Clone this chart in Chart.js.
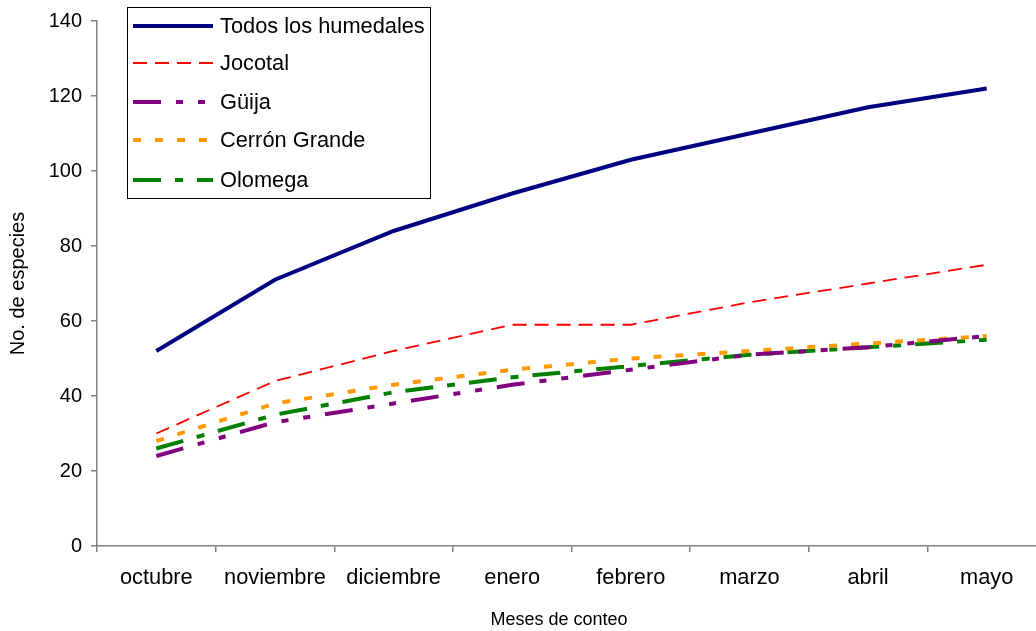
<!DOCTYPE html>
<html>
<head>
<meta charset="utf-8">
<script src="https://cdn.jsdelivr.net/npm/chart.js@4/dist/chart.umd.min.js"></script>
<style>
  html, body { margin: 0; padding: 0; background: #ffffff; overflow: hidden; width: 1036px; height: 631px; }
  #wrap { width: 1056px; height: 631px; }
</style>
</head>
<body>
<div id="wrap"><canvas id="c" width="1056" height="631"></canvas></div>
<script>
const categories = ['octubre', 'noviembre', 'diciembre', 'enero', 'febrero', 'marzo', 'abril', 'mayo'];
const seriesNames = ['Todos los humedales', 'Jocotal', 'Güija', 'Cerrón Grande', 'Olomega'];
const todos   = [52, 71, 84, 94, 103, 110, 117, 122];
const jocotal = [30, 44, 52, 59, 59, 65, 70, 75];
const guija   = [24, 33, 38, 43, 47, 51, 53, 56];
const cerron  = [28, 38, 43, 47, 50, 52, 54, 56];
const olomega = [26, 35, 41, 45, 48, 51, 53, 55];
const yTicks  = [0, 20, 40, 60, 80, 100, 120, 140];
const xTitle = 'Meses de conteo';
const yTitle = 'No. de especies';

const FONT = '"Liberation Sans", Arial, sans-serif';

const styles = [
  { color: '#000080', width: 4,   dash: [] },
  { color: '#FF0000', width: 1.8, dash: [14, 8] },
  { color: '#800080', width: 4,   dash: [28, 15, 7, 15, 7, 15] },
  { color: '#FF9900', width: 4,   dash: [8, 14] },
  { color: '#008000', width: 4,   dash: [28, 14, 8, 14] }
];
const values = [todos, jocotal, guija, cerron, olomega];

const datasets = values.map((v, i) => ({
  label: seriesNames[i],
  data: v,
  borderColor: styles[i].color,
  backgroundColor: styles[i].color,
  borderWidth: styles[i].width,
  borderDash: styles[i].dash,
  borderCapStyle: 'butt',
  pointRadius: 0,
  pointHoverRadius: 0,
  tension: 0,
  fill: false
}));

const legendPlugin = {
  id: 'boxLegend',
  afterDraw(chart) {
    const ctx = chart.ctx;
    const bx = 127.5, by = 7.5, bw = 303, bh = 191;
    ctx.save();
    ctx.fillStyle = '#ffffff';
    ctx.fillRect(bx, by, bw, bh);
    ctx.strokeStyle = '#000000';
    ctx.lineWidth = 1;
    ctx.strokeRect(bx, by, bw, bh);
    const rows = [26, 63, 102, 140, 180];
    chart.data.datasets.forEach((ds, i) => {
      const y = rows[i];
      ctx.beginPath();
      ctx.strokeStyle = ds.borderColor;
      ctx.lineWidth = ds.borderWidth;
      ctx.setLineDash(ds.borderDash);
      ctx.lineCap = 'butt';
      ctx.moveTo(133, y);
      ctx.lineTo(213, y);
      ctx.stroke();
      ctx.setLineDash([]);
      ctx.fillStyle = '#000000';
      ctx.font = '21.8px ' + FONT;
      ctx.textBaseline = 'middle';
      ctx.textAlign = 'left';
      ctx.fillText(ds.label, 220, y + 1);
    });
    // x axis title
    ctx.font = '18px ' + FONT;
    ctx.textAlign = 'center';
    ctx.textBaseline = 'middle';
    ctx.fillText(xTitle, 559, 620);
    ctx.restore();
  }
};

new Chart(document.getElementById('c'), {
  type: 'line',
  data: { labels: categories, datasets },
  plugins: [legendPlugin],
  options: {
    responsive: false,
    animation: false,
    devicePixelRatio: 1,
    layout: { padding: { top: 20, right: 10, left: 0, bottom: 0 } },
    plugins: { legend: { display: false }, tooltip: { enabled: false } },
    scales: {
      x: {
        type: 'category',
        offset: true,
        afterFit(scale) { scale.height = 85; },
        border: { display: true, color: '#808080', width: 1.5 },
        grid: { display: true, offset: true, drawOnChartArea: false, drawTicks: true, tickLength: 6, color: '#808080', lineWidth: 1.5 },
        ticks: { color: '#000000', font: { family: FONT, size: 21.8 }, padding: 13, maxRotation: 0, autoSkip: false },
        title: { display: false }
      },
      y: {
        min: 0,
        max: 140,
        afterFit(scale) { scale.width = 97; },
        afterBuildTicks(scale) { scale.ticks = yTicks.map(v => ({ value: v })); },
        border: { display: true, color: '#808080', width: 1.5 },
        grid: { display: true, drawOnChartArea: false, drawTicks: true, tickLength: 6, color: '#808080', lineWidth: 1.5 },
        ticks: { color: '#000000', font: { family: FONT, size: 20 }, padding: 9 },
        title: { display: true, text: yTitle, color: '#000000', font: { family: FONT, size: 20 }, padding: { top: 6, bottom: 0 } }
      }
    }
  }
});
</script>
</body>
</html>
